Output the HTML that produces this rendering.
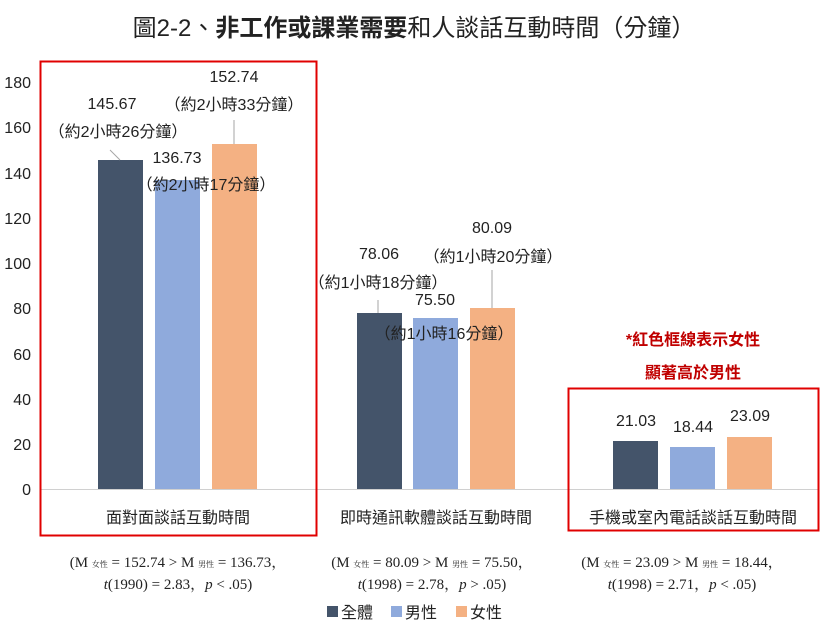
<!DOCTYPE html><html><head><meta charset="utf-8"><style>
body{margin:0;background:#fff}
text{font-family:"Liberation Sans","Noto Sans CJK TC",sans-serif;fill:#222}
text.red{fill:#c00000}
</style></head><body>
<svg width="828" height="631" xmlns="http://www.w3.org/2000/svg">
<text x="414" y="36" font-size="24" text-anchor="middle">圖2-2、<tspan font-weight="bold">非工作或課業需要</tspan>和人談話互動時間（分鐘）</text>
<g font-size="16" text-anchor="end">
<text x="31" y="495">0</text><text x="31" y="450">20</text><text x="31" y="405">40</text><text x="31" y="360">60</text><text x="31" y="314">80</text><text x="31" y="269">100</text><text x="31" y="224">120</text><text x="31" y="179">140</text><text x="31" y="133">160</text><text x="31" y="88">180</text>
</g>
<line x1="40" y1="489.5" x2="818" y2="489.5" stroke="#d0d0d0"/>
<g>
<rect x="98" y="160" width="45" height="329" fill="#44546a"/>
<rect x="155" y="180" width="45" height="309" fill="#8faadc"/>
<rect x="212" y="144" width="45" height="345" fill="#f4b183"/>
<rect x="357" y="313" width="45" height="176" fill="#44546a"/>
<rect x="413" y="318" width="45" height="171" fill="#8faadc"/>
<rect x="470" y="308" width="45" height="181" fill="#f4b183"/>
<rect x="613" y="441" width="45" height="48" fill="#44546a"/>
<rect x="670" y="447" width="45" height="42" fill="#8faadc"/>
<rect x="727" y="437" width="45" height="52" fill="#f4b183"/>
</g>
<g stroke="#a6a6a6">
<line x1="110" y1="150" x2="120" y2="160"/>
<line x1="234" y1="120" x2="234" y2="144"/>
<line x1="378" y1="300" x2="378" y2="313"/>
<line x1="492" y1="270" x2="492" y2="308"/>
</g>
<g font-size="16" text-anchor="middle">
<text x="112" y="109">145.67</text>
<text x="118" y="137">（約2小時26分鐘）</text>
<text x="234" y="82">152.74</text>
<text x="234" y="110">（約2小時33分鐘）</text>
<text x="177" y="163">136.73</text>
<text x="206" y="190">（約2小時17分鐘）</text>
<text x="379" y="259">78.06</text>
<text x="378" y="288">（約1小時18分鐘）</text>
<text x="492" y="233">80.09</text>
<text x="493" y="262">（約1小時20分鐘）</text>
<text x="435" y="305">75.50</text>
<text x="444" y="339">（約1小時16分鐘）</text>
<text x="636" y="426">21.03</text>
<text x="693" y="432">18.44</text>
<text x="750" y="421">23.09</text>
<text x="178" y="523">面對面談話互動時間</text>
<text x="436" y="523">即時通訊軟體談話互動時間</text>
<text x="693" y="523">手機或室內電話談話互動時間</text>
</g>
<g font-size="16" font-weight="bold" text-anchor="middle">
<text class="red" x="693" y="345">*紅色框線表示女性</text>
<text class="red" x="693" y="378">顯著高於男性</text>
</g>
<rect x="40.5" y="61.5" width="276" height="474" fill="none" stroke="#e00000" stroke-width="2"/>
<rect x="568.5" y="388.5" width="250" height="142" fill="none" stroke="#e00000" stroke-width="2"/>
<g font-size="15" text-anchor="middle">
<text x="178" y="567" style="font-family:'Liberation Serif','Noto Serif CJK SC',serif">(M <tspan font-size="8">女性</tspan> = 152.74 &gt; M <tspan font-size="8">男性</tspan> = 136.73，</text>
<text x="178" y="589" style="font-family:'Liberation Serif','Noto Serif CJK SC',serif"><tspan font-style="italic">t</tspan>(1990) = 2.83，<tspan font-style="italic">p</tspan> &lt; .05)</text>
<text x="432" y="567" style="font-family:'Liberation Serif','Noto Serif CJK SC',serif">(M <tspan font-size="8">女性</tspan> = 80.09 &gt; M <tspan font-size="8">男性</tspan> = 75.50，</text>
<text x="432" y="589" style="font-family:'Liberation Serif','Noto Serif CJK SC',serif"><tspan font-style="italic">t</tspan>(1998) = 2.78，<tspan font-style="italic">p</tspan> &gt; .05)</text>
<text x="682" y="567" style="font-family:'Liberation Serif','Noto Serif CJK SC',serif">(M <tspan font-size="8">女性</tspan> = 23.09 &gt; M <tspan font-size="8">男性</tspan> = 18.44，</text>
<text x="682" y="589" style="font-family:'Liberation Serif','Noto Serif CJK SC',serif"><tspan font-style="italic">t</tspan>(1998) = 2.71，<tspan font-style="italic">p</tspan> &lt; .05)</text>
</g>
<rect x="327" y="606" width="11" height="11" fill="#44546a"/>
<text x="341" y="618" font-size="16">全體</text>
<rect x="391" y="606" width="11" height="11" fill="#8faadc"/>
<text x="405" y="618" font-size="16">男性</text>
<rect x="456" y="606" width="11" height="11" fill="#f4b183"/>
<text x="470" y="618" font-size="16">女性</text>
</svg>
</body></html>
